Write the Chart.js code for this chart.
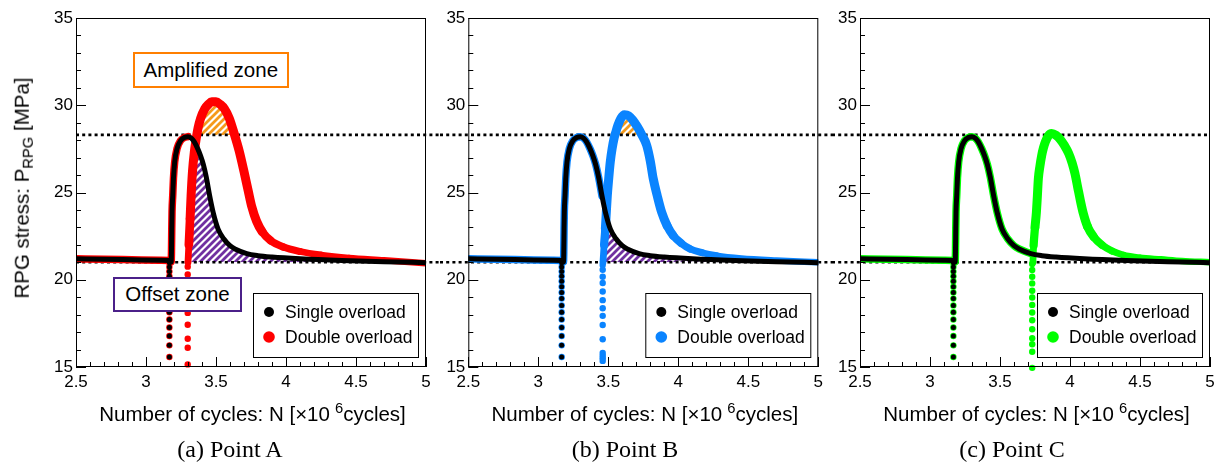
<!DOCTYPE html>
<html>
<head>
<meta charset="utf-8">
<script src="https://cdn.jsdelivr.net/npm/chart.js@4.4.0/dist/chart.umd.min.js"></script>
<style>
    html, body { margin: 0; padding: 0; background: #fff; }
    body { width: 1225px; height: 468px; position: relative; overflow: hidden; font-family: "Liberation Sans", Arial, sans-serif; color: #000; }
    canvas { position: absolute; top: 0; }
    .ytitle { position: absolute; left: 23px; top: 188px; transform: translate(-50%, -50%) rotate(-90deg); font-size: 20.5px; white-space: nowrap; }
    .ytitle sub { font-size: 0.72em; vertical-align: -0.3em; }
    .xtitle { position: absolute; top: 413px; transform: translate(-50%, -50%); font-size: 20.5px; white-space: nowrap; }
    .xtitle sup { font-size: 0.72em; vertical-align: 0.55em; margin-left: 5px; }
    .caption { position: absolute; top: 449px; transform: translate(-50%, -50%); font-family: "Liberation Serif", serif; font-size: 24px; white-space: nowrap; }
    .zone { position: absolute; box-sizing: border-box; background: #fff; border: 2.5px solid; font-size: 20.5px; display: flex; align-items: center; justify-content: center; white-space: nowrap; }
</style>
</head>
<body>
<script>
// ---- data ----
const xTickValues = [2.5, 3, 3.5, 4, 4.5, 5];
const yTickValues = [15, 20, 25, 30, 35];
const seriesNames = ['Single overload', 'Double overload'];
const refLevels = [28.3, 21.0];   // single overload peak / steady level

// single overload (same curve in all three panels)
const singleX = [2.50, 2.70, 2.90, 3.10, 3.165, 3.180, 3.182, 3.184, 3.186, 3.191, 3.196, 3.205, 3.222, 3.246, 3.274, 3.300,
    3.325, 3.345, 3.370, 3.390, 3.410, 3.430, 3.455, 3.480, 3.515, 3.555, 3.600, 3.640, 3.720, 3.800, 3.900, 4.100, 4.400, 4.700, 5.000];
const singleY = [21.20, 21.18, 21.15, 21.12, 21.10, 21.02, 21.60, 22.90, 23.90, 24.83, 25.79, 26.75, 27.52, 27.96, 28.15, 28.20,
    28.10, 27.90, 27.50, 27.10, 26.60, 25.90, 24.80, 23.85, 22.90, 22.35, 21.95, 21.75, 21.50, 21.38, 21.30, 21.20, 21.10, 21.03, 20.98];
const singleDropX = 3.167;
const singleDropY = [15.57, 16.24, 16.78, 17.26, 17.72, 18.14, 18.53, 18.92, 19.27, 19.60, 19.91, 20.20, 20.47, 20.73, 20.97];

// double overload, second overload position per point
const secondAt = [3.298, 3.460, 3.730];

// (a) Point A
const dropA = [15.15, 16.10, 16.62, 17.42, 18.10, 18.70, 19.30, 19.80, 20.30, 20.75];
const curveAX = [3.300, 3.306, 3.315, 3.322, 3.332, 3.345, 3.357, 3.372, 3.390, 3.420, 3.445, 3.470, 3.500, 3.530, 3.560, 3.595,
    3.629, 3.665, 3.700, 3.730, 3.755, 3.790, 3.830, 3.890, 3.980, 4.100, 4.250, 4.450, 4.700, 5.000];
const curveAY = [21.00, 22.00, 23.50, 24.80, 26.20, 27.30, 28.00, 28.70, 29.25, 29.80, 30.05, 30.20, 30.20, 30.05, 29.80, 29.25,
    28.40, 27.40, 26.20, 25.10, 24.20, 23.35, 22.75, 22.25, 21.88, 21.62, 21.42, 21.25, 21.12, 20.95];

// (b) Point B
const dropB = [15.35, 15.50, 15.65, 15.80, 16.59, 17.41, 17.93, 18.37, 18.83, 19.33, 19.81, 20.17, 20.57, 20.85];
const curveBX = [3.462, 3.470, 3.479, 3.486, 3.493, 3.503, 3.514, 3.527, 3.541, 3.555, 3.569, 3.590, 3.615, 3.645, 3.675, 3.705,
    3.740, 3.774, 3.800, 3.821, 3.850, 3.881, 3.920, 3.964, 4.020, 4.084, 4.170, 4.274, 4.450, 4.700, 5.000];
const curveBY = [21.00, 22.00, 22.92, 23.90, 24.83, 25.80, 26.75, 27.50, 28.10, 28.50, 28.86, 29.25, 29.45, 29.40, 29.15, 28.80,
    28.30, 27.71, 26.80, 25.79, 24.80, 23.87, 23.10, 22.53, 22.10, 21.77, 21.55, 21.38, 21.22, 21.10, 21.00];

// (c) Point C
const dropC = [14.95, 15.87, 16.30, 16.65, 17.16, 17.68, 18.12, 18.56, 18.98, 19.37, 19.79, 20.17, 20.56, 20.90];
const curveCX = [3.735, 3.740, 3.750, 3.760, 3.767, 3.774, 3.785, 3.798, 3.810, 3.824, 3.845, 3.869, 3.900, 3.930, 3.960, 3.990,
    4.015, 4.035, 4.055, 4.075, 4.095, 4.125, 4.170, 4.230, 4.300, 4.380, 4.500, 4.650, 4.800, 5.000];
const curveCY = [21.00, 21.95, 23.00, 23.87, 24.80, 25.79, 26.50, 27.13, 27.55, 27.90, 28.25, 28.38, 28.28, 28.05, 27.70, 27.25,
    26.70, 26.10, 25.30, 24.50, 23.80, 23.05, 22.45, 21.98, 21.65, 21.42, 21.26, 21.17, 21.08, 21.00];

// ---- layout / style ----
const FONT = '"Liberation Sans", Arial, sans-serif';
const panels = [
    { left: 0,   width: 440, plotLeft: 76,   plotRight: 426,   color: '#ff0000', drop: dropA, cx: curveAX, cy: curveAY, hatch: true,  lineFrom: 'area', lineTo: 'edge', caption: '(a) Point A', captionX: 230, yTitle: true },
    { left: 440, width: 392, plotLeft: 28.3, plotRight: 378.3, color: '#0a84ff', drop: dropB, cx: curveBX, cy: curveBY, hatch: true,  lineFrom: 'edge', lineTo: 'edge', caption: '(b) Point B', captionX: 625 },
    { left: 832, width: 393, plotLeft: 28,   plotRight: 378,   color: '#00ff00', drop: dropC, cx: curveCX, cy: curveCY, hatch: false, lineFrom: 'edge', lineTo: 'area', caption: '(c) Point C', captionX: 1012 }
];

const toPts = (xs, ys) => xs.map((x, i) => ({ x, y: ys[i] }));
const singleCurve = toPts(singleX, singleY);
const singleDrop = singleDropY.map(y => ({ x: singleDropX, y }));

function stripes(color) {
    const t = 7;
    const c = document.createElement('canvas');
    c.width = c.height = t;
    const g = c.getContext('2d');
    g.strokeStyle = color;
    g.lineWidth = 2.8;
    g.beginPath();
    [-t, 0, t].forEach(o => { g.moveTo(o - 1, t + 1); g.lineTo(o + t + 1, -1); });
    g.stroke();
    return g.createPattern(c, 'repeat');
}
const purpleHatch = stripes('#7030a0');
const orangeHatch = stripes('#f59a1c');

function underCurve(ctx, pts, xs, ys, base) {
    const b = ys.getPixelForValue(base);
    ctx.beginPath();
    ctx.moveTo(xs.getPixelForValue(pts[0].x), b);
    pts.forEach(p => ctx.lineTo(xs.getPixelForValue(p.x), ys.getPixelForValue(p.y)));
    ctx.lineTo(xs.getPixelForValue(pts[pts.length - 1].x), b);
    ctx.closePath();
}

// hatched zones + dotted reference levels, under the curves
const zonesPlugin = {
    id: 'zones',
    beforeDatasetsDraw(chart, args, opts) {
        const { ctx, chartArea: a, scales: { x, y } } = chart;
        if (opts.hatch) {
            const second = opts.second;
            const rise = singleCurve.filter(p => p.x >= 3.18);
            // offset zone: below single curve and below double curve
            ctx.save();
            underCurve(ctx, rise, x, y, refLevels[1]); ctx.clip();
            underCurve(ctx, second, x, y, refLevels[1]); ctx.clip();
            ctx.fillStyle = purpleHatch;
            ctx.fillRect(a.left, a.top, a.width, a.height);
            ctx.restore();
            // amplified zone: double curve above single peak level
            ctx.save();
            underCurve(ctx, second, x, y, refLevels[1]); ctx.clip();
            ctx.beginPath();
            ctx.rect(a.left, a.top, a.width, y.getPixelForValue(refLevels[0]) - a.top);
            ctx.clip();
            ctx.fillStyle = orangeHatch;
            ctx.fillRect(a.left, a.top, a.width, a.height);
            ctx.restore();
        }
        ctx.save();
        ctx.strokeStyle = '#000';
        ctx.lineWidth = 2.6;
        ctx.setLineDash([3, 3.2]);
        const x0 = opts.lineFrom === 'area' ? a.left : 0;
        const x1 = opts.lineTo === 'area' ? a.right : chart.width;
        refLevels.forEach(v => {
            const py = y.getPixelForValue(v);
            ctx.beginPath();
            ctx.moveTo(x0, py);
            ctx.lineTo(x1, py);
            ctx.stroke();
        });
        ctx.restore();
    }
};

// frame, inward ticks and boxed legend
const framePlugin = {
    id: 'frame',
    afterDraw(chart, args, opts) {
        const { ctx, chartArea: a, scales: { x, y } } = chart;
        ctx.save();
        ctx.strokeStyle = '#000';
        ctx.lineWidth = 1;
        ctx.strokeRect(a.left + 0.5, a.top + 0.5, a.width - 1, a.height - 1);
        ctx.beginPath();
        for (let i = 0; i <= 25; i++) {
            const px = Math.round(x.getPixelForValue(x.min + i * 0.1)) + 0.5;
            const len = i % 5 === 0 ? 10 : 5;
            ctx.moveTo(px, a.bottom); ctx.lineTo(px, a.bottom - len);
        }
        for (let i = 0; i <= 20; i++) {
            const py = Math.round(y.getPixelForValue(y.min + i)) + 0.5;
            const len = i % 5 === 0 ? 10 : 5;
            ctx.moveTo(a.left, py); ctx.lineTo(a.left + len, py);
        }
        ctx.stroke();

        // legend
        const L = a.right - 173, T = a.bottom - 74, W = 165, H = 64;
        ctx.fillStyle = '#fff';
        ctx.fillRect(L, T, W, H);
        ctx.strokeRect(L + 0.5, T + 0.5, W, H);
        const marks = [{ c: '#000', r: 5 }, { c: opts.color, r: 5.8 }];
        ctx.font = '17.5px ' + FONT;
        ctx.textBaseline = 'middle';
        seriesNames.forEach((name, i) => {
            const cy = T + 19 + i * 25;
            ctx.fillStyle = marks[i].c;
            ctx.beginPath();
            ctx.arc(L + 16, cy, marks[i].r, 0, Math.PI * 2);
            ctx.fill();
            ctx.fillStyle = '#000';
            ctx.fillText(name, L + 32, cy + 1);
        });
        ctx.restore();
    }
};

// thicker band while the stress is raised, thinner on the steady tail
function widthFor(ctx) {
    const ym = (ctx.p0.parsed.y + ctx.p1.parsed.y) / 2;
    return 6.5 + Math.min(2.5, Math.max(0, (ym - 21.3) * 1.5));
}

panels.forEach((p, idx) => {
    const cv = document.createElement('canvas');
    cv.width = p.width;
    cv.height = 400;
    cv.style.left = p.left + 'px';
    document.body.appendChild(cv);

    const second = toPts(p.cx, p.cy);
    const firstPart = singleCurve.filter(pt => pt.x <= secondAt[idx] + 0.005);
    const colouredDots = singleDrop.concat(p.drop.map(y => ({ x: secondAt[idx], y })));

    const lineBase = { showLine: true, pointRadius: 0, borderCapStyle: 'round', borderJoinStyle: 'round', cubicInterpolationMode: 'monotone' };

    new Chart(cv.getContext('2d'), {
        type: 'scatter',
        data: {
            datasets: [
                { ...lineBase, label: seriesNames[0], data: singleCurve, borderColor: '#000', borderWidth: 5, order: 0 },
                { label: seriesNames[0], data: singleDrop, showLine: false, pointRadius: 2.5, pointBackgroundColor: '#000',
                  pointBorderWidth: 0, clip: false, order: 1 },
                { ...lineBase, label: seriesNames[1], data: second, borderColor: p.color, borderWidth: 8,
                  segment: { borderWidth: widthFor }, order: 2 },
                { ...lineBase, label: seriesNames[1], data: firstPart, borderColor: p.color, borderWidth: 7.5, order: 3 },
                { label: seriesNames[1], data: colouredDots, showLine: false, pointRadius: 3.2, pointBackgroundColor: p.color,
                  pointBorderWidth: 0, clip: false, order: 4 }
            ]
        },
        options: {
            responsive: false,
            animation: false,
            events: [],
            layout: { padding: { left: 0, right: p.width - p.plotRight, top: 18, bottom: 0 } },
            plugins: {
                legend: { display: false },
                tooltip: { enabled: false },
                zones: { hatch: p.hatch, second, lineFrom: p.lineFrom, lineTo: p.lineTo },
                frame: { color: p.color }
            },
            scales: {
                x: {
                    type: 'linear', min: 2.5, max: 5,
                    afterBuildTicks: s => { s.ticks = xTickValues.map(v => ({ value: v })); },
                    afterFit: s => { s.height = 33; s.paddingLeft = 0; s.paddingRight = 0; },
                    grid: { display: false, drawTicks: false },
                    border: { display: false },
                    ticks: { color: '#000', font: { family: FONT, size: 17 }, padding: 5, maxRotation: 0, autoSkip: false, callback: v => String(v) }
                },
                y: {
                    type: 'linear', min: 15, max: 35,
                    afterBuildTicks: s => { s.ticks = yTickValues.map(v => ({ value: v })); },
                    afterFit: s => { s.width = p.plotLeft; s.paddingTop = 0; s.paddingBottom = 0; },
                    grid: { display: false, drawTicks: false },
                    border: { display: false },
                    ticks: { color: '#000', font: { family: FONT, size: 17 }, padding: 3, autoSkip: false, callback: v => String(v) }
                }
            }
        },
        plugins: [zonesPlugin, framePlugin]
    });

    const plotMid = p.left + (p.plotLeft + p.plotRight) / 2;
    const xt = document.createElement('div');
    xt.className = 'xtitle';
    xt.style.left = (plotMid + 1.5) + 'px';
    xt.innerHTML = 'Number of cycles: N [×10<sup>6</sup>cycles]';
    document.body.appendChild(xt);

    const cap = document.createElement('div');
    cap.className = 'caption';
    cap.style.left = p.captionX + 'px';
    cap.textContent = p.caption;
    document.body.appendChild(cap);

    if (p.yTitle) {
        const yt = document.createElement('div');
        yt.className = 'ytitle';
        yt.innerHTML = 'RPG stress: P<sub>RPG</sub> [MPa]';
        document.body.appendChild(yt);
    }
});

// zone labels of panel (a)
[
    { text: 'Amplified zone', color: '#ff7f00', l: 132.7, t: 52.3, w: 156.3, h: 36 },
    { text: 'Offset zone', color: '#4b2089', l: 112.7, t: 276.7, w: 129.6, h: 35.6 }
].forEach(z => {
    const d = document.createElement('div');
    d.className = 'zone';
    d.textContent = z.text;
    Object.assign(d.style, { left: z.l + 'px', top: z.t + 'px', width: z.w + 'px', height: z.h + 'px', borderColor: z.color });
    document.body.appendChild(d);
});
</script>
</body>
</html>
